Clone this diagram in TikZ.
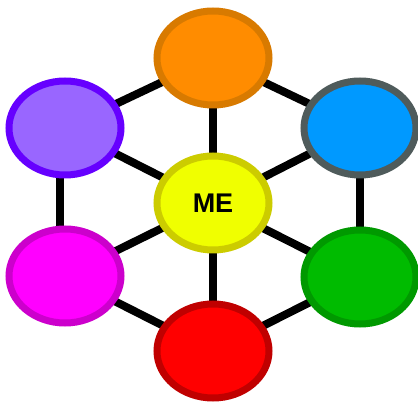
\documentclass[tikz,border=0pt]{standalone}
\usepackage{fontspec}
\setmainfont{Liberation Sans}
\usetikzlibrary{shapes.geometric,backgrounds}
\definecolor{orF}{HTML}{FF8C00}\definecolor{orD}{HTML}{D87A00}
\definecolor{yeF}{HTML}{F0FF00}\definecolor{yeD}{HTML}{CCCC00}
\definecolor{puF}{HTML}{9966FF}\definecolor{puD}{HTML}{6600FF}
\definecolor{blF}{HTML}{0099FF}\definecolor{blD}{HTML}{4F5B5B}
\definecolor{maF}{HTML}{FF00FF}\definecolor{maD}{HTML}{CC00CC}
\definecolor{grF}{HTML}{00BB00}\definecolor{grD}{HTML}{009900}
\definecolor{reF}{HTML}{FF0000}\definecolor{reD}{HTML}{C00000}
\tikzset{
  blob/.style={ellipse, inner sep=0pt, minimum width=112pt, minimum height=94pt, line width=7pt},
  link/.style={line width=8pt, black}
}
\begin{document}
\begin{tikzpicture}[x=1pt,y=1pt]
\useasboundingbox (0,0) rectangle (418,404);
\node[blob, draw=orD, fill=orF] (top) at (213,346) {};
\node[blob, draw=puD, fill=puF] (ul) at (65,276) {};
\node[blob, draw=blD, fill=blF] (ur) at (360,276) {};
\node[blob, draw=yeD, fill=yeF, font=\bfseries\fontsize{27}{30}\selectfont] (me) at (213,201) {ME};
\node[blob, draw=maD, fill=maF] (ll) at (65,128) {};
\node[blob, draw=grD, fill=grF] (lr) at (360,127) {};
\node[blob, draw=reD, fill=reF] (bot) at (213,53) {};
\begin{scope}[on background layer]
\foreach \n in {top,ul,ur,ll,lr,bot} \draw[link] (me.center) -- (\n.center);
\draw[link] (top.center) -- (ul.center);
\draw[link] (top.center) -- (ur.center);
\draw[link] ([xshift=-5pt]ul.center) -- ([xshift=-5pt]ll.center);
\draw[link] (ur.center) -- (lr.center);
\draw[link] (ll.center) -- (bot.center);
\draw[link] (lr.center) -- (bot.center);
\end{scope}
\end{tikzpicture}
\end{document}
